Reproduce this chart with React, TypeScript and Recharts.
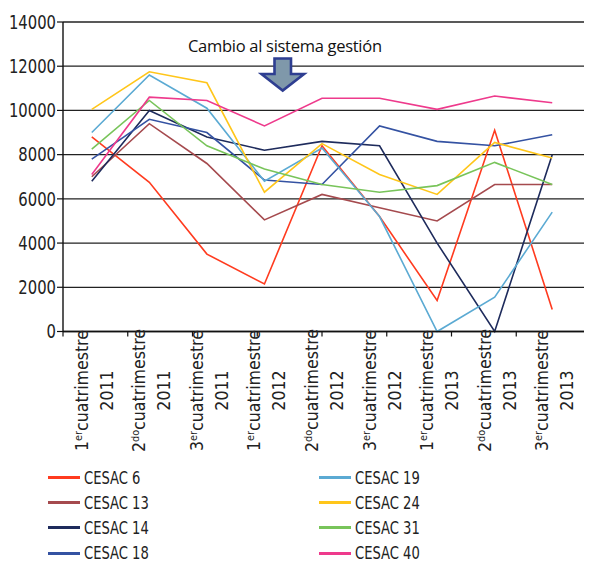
import React from 'react';
import { CartesianGrid, Legend, Line, LineChart, XAxis, YAxis } from 'recharts';

// Periods (cuatrimestres) along the x axis
const ordinals = ['1', '2', '3', '1', '2', '3', '1', '2', '3'];
const suffixes = ['er', 'do', 'er', 'er', 'do', 'er', 'er', 'do', 'er'];
const years = ['2011', '2011', '2011', '2012', '2012', '2012', '2013', '2013', '2013'];

const yTicks = [0, 2000, 4000, 6000, 8000, 10000, 12000, 14000];
const boundaryTicks = [0, 1, 2, 3, 4, 5, 6, 7, 8, 9];

const cesac6 = [8800, 6750, 3500, 2150, 8400, 5200, 1400, 9100, 1000];
const cesac13 = [7000, 9400, 7600, 5050, 6200, 5600, 5000, 6650, 6650];
const cesac14 = [6800, 10000, 8800, 8200, 8600, 8400, 4000, 0, 8000];
const cesac18 = [7800, 9600, 9000, 6850, 6650, 9300, 8600, 8400, 8900];
const cesac19 = [9000, 11600, 10100, 6800, 8300, 5200, 0, 1550, 5400];
const cesac24 = [10050, 11750, 11250, 6300, 8500, 7100, 6200, 8550, 7850];
const cesac31 = [8250, 10450, 8400, 7350, 6650, 6300, 6600, 7650, 6650];
const cesac40 = [7100, 10600, 10450, 9300, 10550, 10550, 10050, 10650, 10350];

const series = [
  { name: 'CESAC 6', values: cesac6, color: '#FF3B1F' },
  { name: 'CESAC 13', values: cesac13, color: '#A54A4E' },
  { name: 'CESAC 14', values: cesac14, color: '#1E2B5C' },
  { name: 'CESAC 18', values: cesac18, color: '#3452A2' },
  { name: 'CESAC 19', values: cesac19, color: '#5BAAD3' },
  { name: 'CESAC 24', values: cesac24, color: '#FFC61A' },
  { name: 'CESAC 31', values: cesac31, color: '#78C45A' },
  { name: 'CESAC 40', values: cesac40, color: '#EE3A8C' },
];
const seriesNames = series.map((s) => s.name);

const data = ordinals.map((o, i) => {
  const row: Record<string, string | number> = {
    period: `${o}${suffixes[i]} cuatrimestre ${years[i]}`,
  };
  series.forEach((s) => {
    row[s.name] = s.values[i];
  });
  return row;
});

// no condensed face installed, so squeeze the glyphs a bit to look narrow
const FONT = "'DejaVu Sans', sans-serif";
const SQUEEZE = 0.78;

function PeriodTick(props: any) {
  const { x, y } = props;
  const index = props.index ?? props.payload?.index ?? 0;
  return (
    <g transform={`translate(${x},${y + 58}) rotate(-90) scale(${SQUEEZE + 0.1},1)`}>
      <text textAnchor="middle" fontFamily={FONT} fontSize={18} fill="#222">
        <tspan x={0} y={-4}>{ordinals[index]}</tspan>
        <tspan dy={-6} fontSize={11}>{suffixes[index]}</tspan>
        <tspan dy={6}>cuatrimestre</tspan>
        <tspan x={0} y={21}>{years[index]}</tspan>
      </text>
    </g>
  );
}

function ValueTick(props: any) {
  const { x, y, payload } = props;
  return (
    <g transform={`translate(${x},${y}) scale(${SQUEEZE},1)`}>
      <text x={0} y={0} textAnchor="end" dy="0.36em" fontFamily={FONT} fontSize={19} fill="#222">
        {payload.value}
      </text>
    </g>
  );
}

function TwoColumnLegend({ payload }: any) {
  const items = [...(payload || [])].sort(
    (a: any, b: any) => seriesNames.indexOf(a.value) - seriesNames.indexOf(b.value)
  );
  const cols = [items.slice(0, 4), items.slice(4)];
  return (
    <div style={{ position: 'relative', height: 100, fontFamily: FONT, fontSize: 17.5, color: '#222' }}>
      {cols.map((col: any[], c: number) => (
        <div key={c} style={{ position: 'absolute', top: 0, left: c === 0 ? 40 : 311 }}>
          {col.map((entry: any) => (
            <div key={entry.value} style={{ display: 'flex', alignItems: 'center', height: 25.2 }}>
              <span
                style={{ display: 'inline-block', width: 32, height: 3, background: entry.color, marginRight: 4 }}
              />
              <span
                style={{
                  whiteSpace: 'nowrap',
                  display: 'inline-block',
                  lineHeight: '18px',
                  transform: `scaleX(${SQUEEZE - 0.03})`,
                  transformOrigin: 'left center',
                }}
              >
                {entry.value}
              </span>
            </div>
          ))}
        </div>
      ))}
    </div>
  );
}

export default function App() {
  return (
    <div style={{ position: 'relative', width: 584, height: 554 }}>
      <LineChart width={584} height={554} data={data} margin={{ top: 14, right: 0, left: 0, bottom: 9.5 }}>
        <CartesianGrid xAxisId="labels" vertical={false} stroke="#222" strokeWidth={1.3} />
        <XAxis
          xAxisId="labels"
          dataKey="period"
          type="category"
          scale="band"
          height={120}
          padding={{ left: 0, right: 11 }}
          axisLine={false}
          tickLine={false}
          tickSize={0}
          tickMargin={0}
          interval={0}
          tick={(p: any) => <PeriodTick {...p} />}
        />
        <XAxis
          xAxisId="bounds"
          type="number"
          domain={[0, 9]}
          allowDataOverflow
          ticks={boundaryTicks}
          height={1}
          padding={{ left: 0, right: 11 }}
          axisLine={{ stroke: '#111', strokeWidth: 1.4 }}
          tickLine={{ stroke: '#111', strokeWidth: 1.2 }}
          tickSize={5}
          tick={() => <g />}
        />
        <YAxis
          domain={[0, 14000]}
          ticks={yTicks}
          width={55}
          interval={0}
          axisLine={{ stroke: '#111', strokeWidth: 1.4 }}
          tickLine={{ stroke: '#111', strokeWidth: 1.2 }}
          tickSize={6}
          tickMargin={1}
          tick={(p: any) => <ValueTick {...p} />}
        />
        <Legend
          verticalAlign="bottom"
          content={<TwoColumnLegend />}
          wrapperStyle={{ top: 457, bottom: 'auto', left: 0, width: 584 }}
        />
        {series.map((s) => (
          <Line
            key={s.name}
            xAxisId="labels"
            type="linear"
            dataKey={s.name}
            stroke={s.color}
            strokeWidth={1.6}
            dot={false}
            activeDot={false}
            isAnimationActive={false}
          />
        ))}
      </LineChart>
      <svg
        width={584}
        height={100}
        style={{ position: 'absolute', left: 0, top: 0, pointerEvents: 'none' }}
      >
        <text x={180} y={43.5} fontFamily="'Open Sans', sans-serif" fontSize={16.5} fill="#111" textLength={194}>
          Cambio al sistema gestión
        </text>
        <polygon
          points="266.5,50.5 283,50.5 283,66 296,66 274.7,82.5 253.5,66 266.5,66"
          fill="#7F98AA"
          stroke="#2E3E91"
          strokeWidth={2.6}
          strokeLinejoin="miter"
        />
      </svg>
    </div>
  );
}
